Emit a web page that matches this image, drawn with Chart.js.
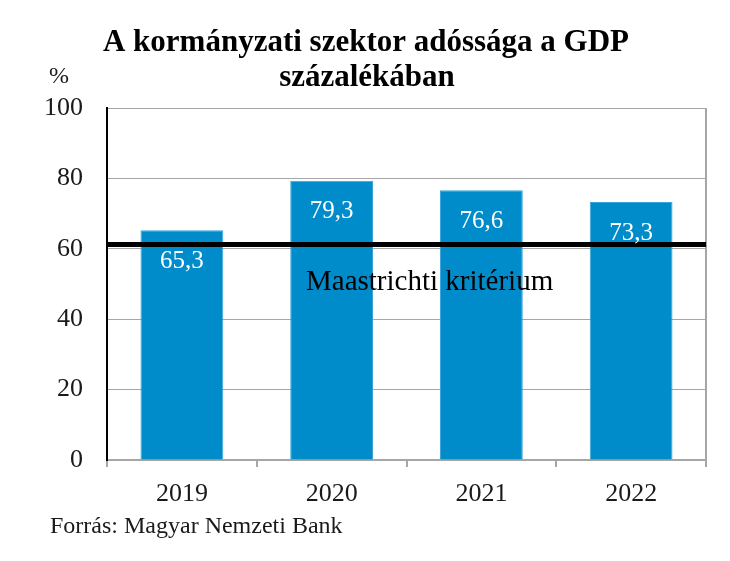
<!DOCTYPE html>
<html>
<head>
<meta charset="utf-8">
<script src="https://cdn.jsdelivr.net/npm/chart.js@4/dist/chart.umd.min.js"></script>
<style>
  body { margin: 0; background: #fff; }
</style>
</head>
<body>
<canvas id="debtChart" width="730" height="561"></canvas>
<script>
// data
var years = ['2019', '2020', '2021', '2022'];
var debtValues = [65.3, 79.3, 76.6, 73.3];
var valueLabels = ['65,3', '79,3', '76,6', '73,3'];
var criterionLevel = [61.2];
var criterionLabel = ['Maastrichti kritérium'];
var yTicks = [0, 20, 40, 60, 80, 100];

var serif = '"Liberation Serif", "DejaVu Serif", serif';

// title, % sign, footer, criterion line, bar labels
var extrasPlugin = {
  id: 'extras',
  afterDatasetsDraw: function(chart) {
    var ctx = chart.ctx;
    var area = chart.chartArea;
    var y = chart.scales.y;

    // right border of the plot
    ctx.save();
    ctx.strokeStyle = '#a6a6a6';
    ctx.lineWidth = 2;
    ctx.beginPath();
    ctx.moveTo(area.right, area.top);
    ctx.lineTo(area.right, area.bottom);
    ctx.stroke();

    // criterion line
    var ly = y.getPixelForValue(criterionLevel[0]);
    ctx.strokeStyle = '#000';
    ctx.lineWidth = 5;
    ctx.beginPath();
    ctx.moveTo(area.left, ly);
    ctx.lineTo(area.right, ly);
    ctx.stroke();

    ctx.fillStyle = '#000';
    ctx.font = '29px ' + serif;
    ctx.textAlign = 'left';
    ctx.textBaseline = 'middle';
    ctx.fillText(criterionLabel[0], 306, ly + 38);

    // value labels inside bars
    var meta = chart.getDatasetMeta(0);
    ctx.fillStyle = '#fff';
    ctx.font = '25px ' + serif;
    ctx.textAlign = 'center';
    meta.data.forEach(function(bar, i) {
      ctx.fillText(valueLabels[i], bar.x, bar.y + 31);
    });

    // title
    ctx.fillStyle = '#000';
    ctx.font = 'bold 31px ' + serif;
    ctx.fillText('A kormányzati szektor adóssága a GDP', 366, 43);
    ctx.fillText('százalékában', 367, 78);

    // unit
    ctx.font = '24px ' + serif;
    ctx.fillStyle = '#1a1a1a';
    ctx.fillText('%', 59, 77);

    // source
    ctx.textAlign = 'left';
    ctx.font = '24px ' + serif;
    ctx.fillText('Forrás: Magyar Nemzeti Bank', 50, 527);
    ctx.restore();
  }
};

var ctx1 = document.getElementById('debtChart').getContext('2d');
var debtChart = new Chart(ctx1, {
  type: 'bar',
  data: {
    labels: years,
    datasets: [{
      label: 'Adósság',
      data: debtValues,
      backgroundColor: '#008bca',
      borderColor: '#3aa5d8',
      borderWidth: 1,
      categoryPercentage: 0.553,
      barPercentage: 1
    }]
  },
  options: {
    responsive: false,
    animation: false,
    layout: { padding: { top: 108, right: 24, bottom: 51, left: 0 } },
    plugins: {
      legend: { display: false },
      tooltip: { enabled: false }
    },
    scales: {
      x: {
        afterFit: function(scale) { scale.height = 50; },
        grid: {
          offset: true,
          drawOnChartArea: false,
          drawTicks: true,
          tickLength: 7,
          color: '#a6a6a6',
          lineWidth: 2
        },
        border: { color: '#a6a6a6', width: 2 },
        ticks: {
          color: '#1a1a1a',
          padding: 12,
          font: { family: serif, size: 26 }
        }
      },
      y: {
        min: 0,
        max: 100,
        afterFit: function(scale) { scale.width = 107; },
        afterBuildTicks: function(scale) {
          scale.ticks = yTicks.map(function(v) { return { value: v }; });
        },
        grid: {
          drawTicks: false,
          color: '#a6a6a6',
          lineWidth: 1
        },
        border: { color: '#000', width: 2 },
        ticks: {
          color: '#1a1a1a',
          padding: 24,
          font: { family: serif, size: 26 }
        }
      }
    }
  },
  plugins: [extrasPlugin]
});
</script>
</body>
</html>
